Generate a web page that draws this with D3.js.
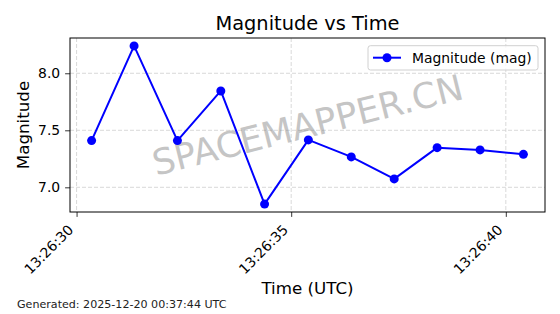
<!DOCTYPE html>
<html>
<head>
<meta charset="utf-8">
<script src="https://cdn.jsdelivr.net/npm/d3@7"></script>
<style>
  body { margin: 0; background: #fff; }
  svg { display: block; font-family: "DejaVu Sans", sans-serif; }
</style>
</head>
<body>
<div id="chart"></div>
<script>
// data
const times = [
  "2025-12-19T13:26:30.350Z", "2025-12-19T13:26:31.340Z", "2025-12-19T13:26:32.350Z",
  "2025-12-19T13:26:33.360Z", "2025-12-19T13:26:34.380Z", "2025-12-19T13:26:35.400Z",
  "2025-12-19T13:26:36.400Z", "2025-12-19T13:26:37.400Z", "2025-12-19T13:26:38.400Z",
  "2025-12-19T13:26:39.400Z", "2025-12-19T13:26:40.410Z"
];
const magnitudes = [7.41, 8.24, 7.41, 7.845, 6.853, 7.416, 7.267, 7.074, 7.348, 7.328, 7.289];
const yTicks = [7.0, 7.5, 8.0];
const seriesLabel = "Magnitude (mag)";
const footerText = "Generated: 2025-12-20 00:37:44 UTC";

const W = 560, H = 314;
const margin = { top: 38, right: 15, bottom: 102, left: 70 };
const width = W - margin.left - margin.right;
const height = H - margin.top - margin.bottom;

const data = times.map((t, i) => ({ t: new Date(t), v: magnitudes[i] }));

const svg = d3.select("#chart").append("svg")
  .attr("width", W)
  .attr("height", H);

const g = svg.append("g")
  .attr("transform", `translate(${margin.left},${margin.top})`);

// 5% padding like matplotlib
const tExt = d3.extent(data, d => +d.t);
const tPad = (tExt[1] - tExt[0]) * 0.05;
const vExt = d3.extent(data, d => d.v);
const vPad = (vExt[1] - vExt[0]) * 0.05;

const x = d3.scaleUtc()
  .domain([new Date(tExt[0] - tPad), new Date(tExt[1] + tPad)])
  .range([0, width]);

const y = d3.scaleLinear()
  .domain([vExt[0] - vPad, vExt[1] + vPad])
  .range([height, 0]);

const xTicks = x.ticks(d3.utcSecond.every(5));

// grid
g.append("g").selectAll("line").data(xTicks).enter().append("line")
  .attr("x1", d => x(d)).attr("x2", d => x(d))
  .attr("y1", 0).attr("y2", height)
  .attr("stroke", "#cfcfcf").attr("stroke-width", 0.8)
  .attr("stroke-dasharray", "4,2");
g.append("g").selectAll("line").data(yTicks).enter().append("line")
  .attr("x1", 0).attr("x2", width)
  .attr("y1", d => y(d)).attr("y2", d => y(d))
  .attr("stroke", "#cfcfcf").attr("stroke-width", 0.8)
  .attr("stroke-dasharray", "4,2");

// watermark
g.append("text")
  .attr("transform", `translate(${width / 2},${height / 2}) rotate(-14)`)
  .attr("text-anchor", "middle")
  .attr("dominant-baseline", "central")
  .attr("font-size", 35.5)
  .attr("fill", "#808080")
  .attr("opacity", 0.45)
  .text("SPACEMAPPER.CN");

// line and markers
const line = d3.line().x(d => x(d.t)).y(d => y(d.v));
g.append("path")
  .datum(data)
  .attr("d", line)
  .attr("fill", "none")
  .attr("stroke", "#0000ff")
  .attr("stroke-width", 2)
  .attr("stroke-linejoin", "round");
g.selectAll("circle.pt").data(data).enter().append("circle")
  .attr("class", "pt")
  .attr("cx", d => x(d.t))
  .attr("cy", d => y(d.v))
  .attr("r", 4.5)
  .attr("fill", "#0000ff");

// axes
const fmt = d3.utcFormat("%H:%M:%S");
const xAxis = g.append("g")
  .attr("transform", `translate(0,${height})`)
  .call(d3.axisBottom(x).tickValues(xTicks).tickSize(4.9).tickFormat(""));
xAxis.select(".domain").remove();
xAxis.selectAll(".tick line").attr("stroke", "#000").attr("stroke-width", 0.8);

g.append("g").selectAll("text").data(xTicks).enter().append("text")
  .attr("transform", d => `translate(${x(d) - 2.3},${height + 9.7 + 9.1}) rotate(-45)`)
  .attr("text-anchor", "end")
  .attr("font-size", 13.9)
  .attr("fill", "#000")
  .text(d => fmt(d));

const yAxis = g.append("g")
  .call(d3.axisLeft(y).tickValues(yTicks).tickSize(4.9).tickPadding(4.9).tickFormat(d3.format(".1f")));
yAxis.select(".domain").remove();
yAxis.selectAll(".tick line").attr("stroke", "#000").attr("stroke-width", 0.8);
yAxis.selectAll(".tick text")
  .attr("font-size", 13.9)
  .attr("font-family", "DejaVu Sans")
  .attr("fill", "#000");

// frame
g.append("rect")
  .attr("width", width).attr("height", height)
  .attr("fill", "none").attr("stroke", "#000").attr("stroke-width", 1);

// title and labels
svg.append("text")
  .attr("x", margin.left + width / 2).attr("y", 30)
  .attr("text-anchor", "middle")
  .attr("font-size", 19.4)
  .text("Magnitude vs Time");

svg.append("text")
  .attr("x", margin.left + width / 2).attr("y", 294)
  .attr("text-anchor", "middle")
  .attr("font-size", 16.7)
  .text("Time (UTC)");

svg.append("text")
  .attr("transform", `translate(29,${margin.top + height / 2}) rotate(-90)`)
  .attr("text-anchor", "middle")
  .attr("font-size", 16.7)
  .text("Magnitude");

svg.append("text")
  .attr("x", 17).attr("y", 308)
  .attr("font-size", 11.1)
  .attr("fill", "#222")
  .text(footerText);

// legend
const leg = g.append("g").attr("transform", `translate(${width - 177},7.7)`);
leg.append("rect")
  .attr("width", 170).attr("height", 24.3)
  .attr("rx", 2.5)
  .attr("fill", "#fff").attr("fill-opacity", 0.8)
  .attr("stroke", "#d0d0d0").attr("stroke-width", 1);
leg.append("line")
  .attr("x1", 5).attr("x2", 33).attr("y1", 12).attr("y2", 12)
  .attr("stroke", "#0000ff").attr("stroke-width", 2);
leg.append("circle")
  .attr("cx", 19).attr("cy", 12).attr("r", 4.5)
  .attr("fill", "#0000ff");
leg.append("text")
  .attr("x", 44).attr("y", 17)
  .attr("font-size", 13.9)
  .text(seriesLabel);
</script>
</body>
</html>
